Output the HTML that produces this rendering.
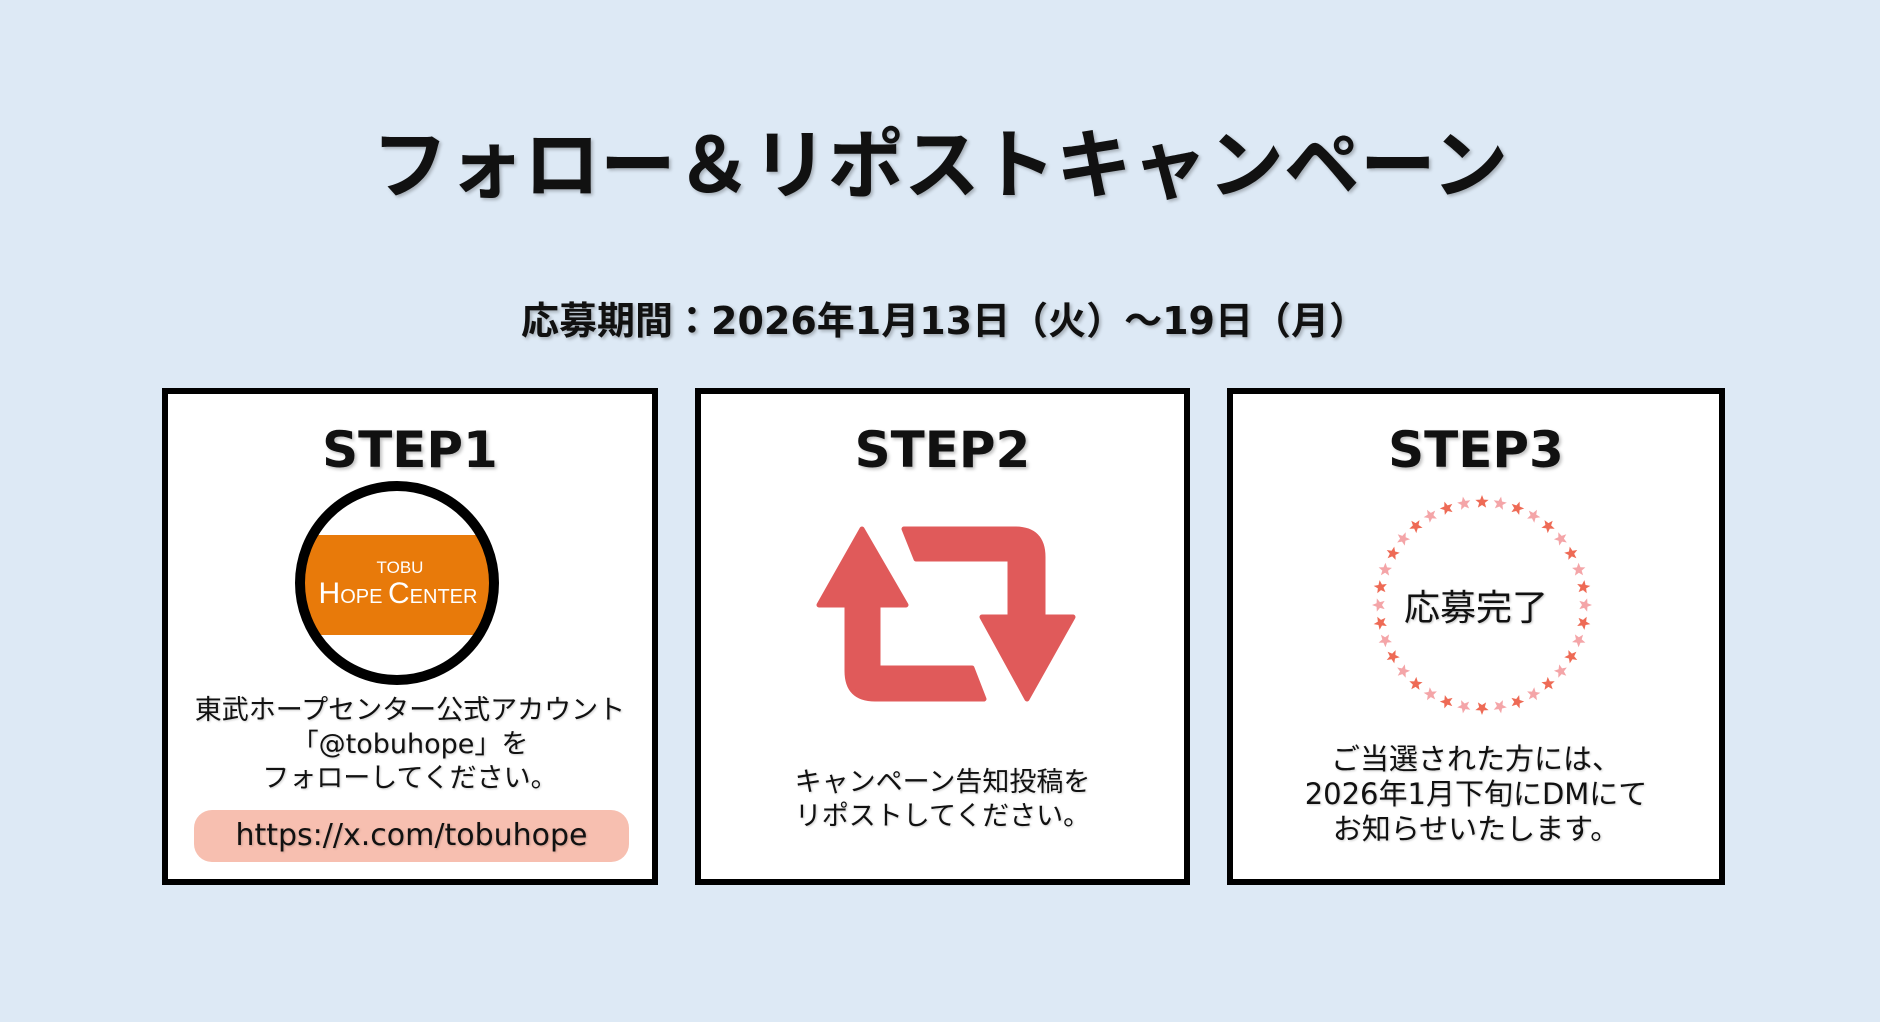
<!DOCTYPE html>
<html><head><meta charset="utf-8"><style>
html,body{margin:0;padding:0}
body{width:1880px;height:1022px;background:#dde9f5;position:relative;overflow:hidden;font-family:"DejaVu Sans","Noto Sans CJK JP",sans-serif;color:#111}
.t{position:absolute;left:0;width:1880px;text-align:center;white-space:nowrap;text-shadow:2px 2px 3px rgba(0,0,0,.25)}
.box{position:absolute;top:388px;height:485px;background:#fff;border:6px solid #000}
.step{position:absolute;left:0;right:0;top:26px;text-align:center;font-size:50px;font-weight:bold;text-shadow:2px 2px 3px rgba(0,0,0,.25);line-height:60px}
.txt{position:absolute;left:0;right:0;text-align:center;font-size:27px;line-height:34px;white-space:nowrap;text-shadow:1px 1px 2px rgba(0,0,0,.2)}
</style></head><body>
<div class="t" style="top:111px;font-size:76px;font-weight:bold;line-height:96px;font-family:'Noto Sans CJK JP',sans-serif;">フォロー＆リポストキャンペーン</div>
<div class="t" style="top:296px;font-size:38px;font-weight:bold;line-height:50px;padding-left:8px;box-sizing:border-box;">応募期間：2026年1月13日（火）～19日（月）</div>

<div class="box" style="left:162px;width:484px;">
  <div class="step">STEP1</div>
  <div class="txt" style="top:300px;">東武ホープセンター公式アカウント<br>「@tobuhope」を<br>フォローしてください。</div>
  <div style="position:absolute;left:26px;top:416px;width:435px;height:52px;border-radius:18px;background:#f7bfb0;text-align:center;font-size:30px;line-height:52px;text-shadow:1px 1px 2px rgba(0,0,0,.2)">https://x.com/tobuhope</div>
</div>
<div class="box" style="left:695px;width:483px;">
  <div class="step">STEP2</div>
  <div class="txt" style="top:372px;">キャンペーン告知投稿を<br>リポストしてください。</div>
</div>
<div class="box" style="left:1227px;width:486px;">
  <div class="step">STEP3</div>
  <div class="txt" style="top:348px;font-size:29px;line-height:35px;">ご当選された方には、<br>2026年1月下旬にDMにて<br>お知らせいたします。</div>
  <div style="position:absolute;left:0;right:0;top:193px;text-align:center;font-size:36px;line-height:44px;text-shadow:1px 1px 2px rgba(0,0,0,.25)">応募完了</div>
</div>

<svg width="1880" height="1022" style="position:absolute;left:0;top:0" xmlns="http://www.w3.org/2000/svg">
  <defs>
    <clipPath id="cc"><circle cx="397" cy="583" r="95"/></clipPath>
    <path id="st" d="M0,-7 L1.76,-2.43 L6.66,-2.16 L2.85,0.93 L4.11,5.66 L0,3 L-4.11,5.66 L-2.85,0.93 L-6.66,-2.16 L-1.76,-2.43Z"/>
  </defs>
  <circle cx="397" cy="583" r="95" fill="#fff"/>
  <rect x="290" y="535" width="220" height="100" fill="#e87a0a" clip-path="url(#cc)"/>
  <circle cx="397" cy="583" r="97" fill="none" stroke="#000" stroke-width="10"/>
  <text x="400" y="573" text-anchor="middle" font-family="Liberation Sans, sans-serif" font-size="17" fill="#fff">TOBU</text>
  <text x="398" y="603" text-anchor="middle" font-family="Liberation Sans, sans-serif" fill="#fff"><tspan font-size="30">H</tspan><tspan font-size="20">OPE </tspan><tspan font-size="30">C</tspan><tspan font-size="20">ENTER</tspan></text>

  <g fill="#e05a5a" stroke="#e05a5a" stroke-width="5" stroke-linejoin="round">
    <path d="M862,529 L906,605 L878,605 L878,668 L972,668 L984,699 L875,699 Q847,699 847,671 L847,605 L819,605 Z"/>
    <path d="M904,529 L1015,529 Q1043,529 1043,557 L1043,617 L1073,617 L1027,699 L982,617 L1010,617 L1010,559 L916,559 Z"/>
  </g>

  <g transform="translate(1482,605)">
    <g fill="#ee6a55">
      <use href="#st" transform="rotate(0) translate(0,-103)"/>
      <use href="#st" transform="rotate(20) translate(0,-103)"/>
      <use href="#st" transform="rotate(40) translate(0,-103)"/>
      <use href="#st" transform="rotate(60) translate(0,-103)"/>
      <use href="#st" transform="rotate(80) translate(0,-103)"/>
      <use href="#st" transform="rotate(100) translate(0,-103)"/>
      <use href="#st" transform="rotate(120) translate(0,-103)"/>
      <use href="#st" transform="rotate(140) translate(0,-103)"/>
      <use href="#st" transform="rotate(160) translate(0,-103)"/>
      <use href="#st" transform="rotate(180) translate(0,-103)"/>
      <use href="#st" transform="rotate(200) translate(0,-103)"/>
      <use href="#st" transform="rotate(220) translate(0,-103)"/>
      <use href="#st" transform="rotate(240) translate(0,-103)"/>
      <use href="#st" transform="rotate(260) translate(0,-103)"/>
      <use href="#st" transform="rotate(280) translate(0,-103)"/>
      <use href="#st" transform="rotate(300) translate(0,-103)"/>
      <use href="#st" transform="rotate(320) translate(0,-103)"/>
      <use href="#st" transform="rotate(340) translate(0,-103)"/>
    </g>
    <g fill="#f4a5a8">
      <use href="#st" transform="rotate(10) translate(0,-103)"/>
      <use href="#st" transform="rotate(30) translate(0,-103)"/>
      <use href="#st" transform="rotate(50) translate(0,-103)"/>
      <use href="#st" transform="rotate(70) translate(0,-103)"/>
      <use href="#st" transform="rotate(90) translate(0,-103)"/>
      <use href="#st" transform="rotate(110) translate(0,-103)"/>
      <use href="#st" transform="rotate(130) translate(0,-103)"/>
      <use href="#st" transform="rotate(150) translate(0,-103)"/>
      <use href="#st" transform="rotate(170) translate(0,-103)"/>
      <use href="#st" transform="rotate(190) translate(0,-103)"/>
      <use href="#st" transform="rotate(210) translate(0,-103)"/>
      <use href="#st" transform="rotate(230) translate(0,-103)"/>
      <use href="#st" transform="rotate(250) translate(0,-103)"/>
      <use href="#st" transform="rotate(270) translate(0,-103)"/>
      <use href="#st" transform="rotate(290) translate(0,-103)"/>
      <use href="#st" transform="rotate(310) translate(0,-103)"/>
      <use href="#st" transform="rotate(330) translate(0,-103)"/>
      <use href="#st" transform="rotate(350) translate(0,-103)"/>
    </g>
  </g>
</svg>
</body></html>
